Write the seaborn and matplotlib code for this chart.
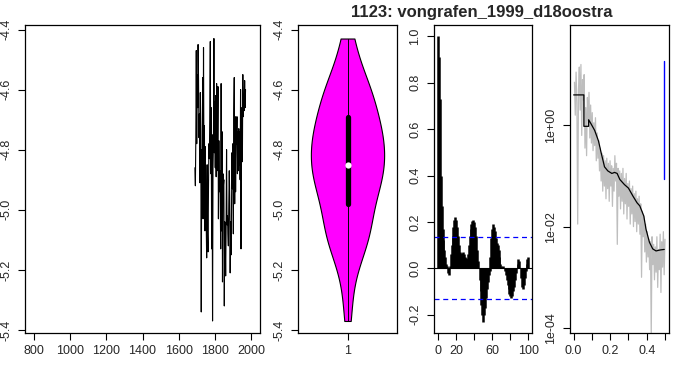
import numpy as np
import pandas as pd
import matplotlib
matplotlib.use("Agg")
import matplotlib.pyplot as plt
import seaborn as sns

sns.set_style("ticks")
plt.rcParams['font.family'] = ['Liberation Sans', 'DejaVu Sans']
plt.rcParams['font.size'] = 9

title = "1123: vongrafen_1999_d18oostra"

# time series (d18O), one value every 2.5 years from 1690
start_year = 1690
step_year = 2.5
d18o = [-4.86, -4.92, -4.76, -4.47, -4.78, -4.55, -4.66, -4.45, -4.57, -4.76,
        -4.68, -4.91, -4.61, -4.74, -5.34, -4.80, -4.95, -4.56, -5.03, -4.46,
        -4.88, -4.72, -5.07, -4.79, -4.98, -5.05, -5.16, -4.85, -5.08, -5.14,
        -4.93, -4.78, -4.83, -4.66, -4.44, -4.88, -4.66, -5.13, -4.75, -5.37,
        -4.86, -4.78, -4.43, -4.81, -4.64, -4.86, -4.62, -4.89, -4.58, -4.87,
        -4.75, -4.59, -5.03, -4.77, -4.94, -4.87, -4.95, -5.13, -4.58, -5.07,
        -4.74, -5.24, -4.88, -4.92, -4.90, -5.32, -5.04, -5.10, -5.22, -5.06,
        -4.80, -5.05, -5.02, -5.08, -5.12, -4.98, -4.87, -4.96, -5.21, -5.04,
        -5.15, -4.99, -4.81, -4.93, -4.78, -5.08, -4.68, -4.56, -4.98, -4.69,
        -4.94, -4.76, -4.78, -4.69, -4.88, -4.74, -4.87, -4.73, -4.85, -4.74,
        -4.90, -4.60, -5.13, -4.78, -4.66, -4.84, -4.55, -4.69, -4.64, -4.67,
        -4.57, -4.66, -4.60]
years = start_year + step_year * np.arange(len(d18o))

# autocorrelation, lags 0..100
acf = [1.00, 0.91, 0.73, 0.40, 0.27, 0.17, 0.12, 0.08, 0.05, 0.02,
       0.01, -0.02, -0.03, 0.01, 0.06, 0.10, 0.14, 0.18, 0.21, 0.22,
       0.21, 0.18, 0.14, 0.10, 0.07, 0.06, 0.06, 0.065, 0.07, 0.06,
       0.05, 0.045, 0.04, 0.06, 0.10, 0.14, 0.17, 0.19, 0.205, 0.21,
       0.20, 0.18, 0.14, 0.08, 0.03, 0.0, -0.05, -0.10, -0.16, -0.20,
       -0.23, -0.20, -0.17, -0.13, -0.09, -0.06, -0.03, -0.01, 0.05, 0.13,
       0.17, 0.19, 0.18, 0.16, 0.13, 0.11, 0.10, 0.08, 0.05, 0.02,
       0.01, 0.005, 0.01, 0.0, -0.01, -0.03, -0.05, -0.07, -0.09, -0.11,
       -0.12, -0.13, -0.12, -0.10, -0.08, -0.05, -0.02, 0.0, 0.02, 0.04,
       0.03, 0.0, -0.04, -0.08, -0.09, -0.07, -0.04, -0.01, 0.02, 0.04,
       0.05]
acf_ci = 0.133

# raw periodogram (log10), frequencies k/226
spec_log = [0.85, 0.20, 1.05, 0.45, -1.95, 0.70, 1.15, 0.30, 1.20, -0.20,
            0.90, 0.50, 1.00, -0.45, 0.35, -0.60, 0.55, 0.10, 0.65, -0.25,
            0.40, -0.35, 0.25, -0.50, 0.05, -0.40, 0.15, -0.70, -0.15, -0.65,
            -0.30, -0.90, -0.45, -1.10, -0.55, -1.30, -0.60, -1.20, -0.70, -1.45,
            -0.65, -1.25, -0.75, -1.50, -0.70, -1.20, -0.80, -1.60, -0.85, -1.30,
            -0.60, -1.10, -0.75, -2.35, -0.85, -1.40, -0.90, -1.65, -0.95, -1.50,
            -0.85, -1.75, -1.05, -1.55, -0.95, -1.85, -1.15, -1.60, -1.10, -1.95,
            -1.25, -1.75, -1.20, -2.00, -1.35, -1.90, -1.30, -2.10, -1.45, -1.95,
            -1.40, -2.15, -1.55, -3.00, -1.70, -2.20, -1.80, -2.50, -1.95, -2.70,
            -2.10, -2.60, -2.25, -2.85, -2.30, -4.15, -2.20, -2.75, -2.35, -3.05,
            -2.40, -2.90, -2.20, -3.20, -2.45, -2.85, -2.15, -3.30, -2.30, -2.80,
            -2.10, -2.95, -2.25]
spec_freq = np.arange(1, len(spec_log) + 1) / 226

# smoothed spectrum (log10)
smooth_freq = [0.0, 0.056, 0.056, 0.082, 0.082, 0.095, 0.115, 0.136, 0.151, 0.169,
               0.187, 0.209, 0.224, 0.238, 0.253, 0.278, 0.300, 0.325, 0.347, 0.362,
               0.384, 0.396, 0.415, 0.433, 0.451, 0.475, 0.496]
smooth_log = [0.60, 0.60, -0.02, -0.02, 0.11, 0.03, -0.10, -0.31, -0.55, -0.82,
              -0.90, -0.95, -0.93, -0.95, -1.07, -1.17, -1.24, -1.40, -1.53, -1.59,
              -1.79, -2.05, -2.31, -2.44, -2.48, -2.46, -2.45]
ci_freq = 0.496
ci_log = [-1.06, 1.27]

W, H = 681, 371
fig = plt.figure(figsize=(W / 100, H / 100), dpi=100)


def px_axes(x0, x1, y0, y1):
    return fig.add_axes([x0 / W, 1 - y1 / H, (x1 - x0) / W, (y1 - y0) / H])


def r_style(ax):
    for s in ax.spines.values():
        s.set_visible(True)
        s.set_linewidth(0.9)
        s.set_color('black')
    ax.tick_params(direction='out', length=5, width=0.8, color='black',
                   labelsize=9, pad=4)
    ax.tick_params(axis='y', labelrotation=90)
    for lab in ax.get_yticklabels():
        lab.set_verticalalignment('center')


yticks = [-5.4, -5.2, -5.0, -4.8, -4.6, -4.4]

# panel 1: time series
ax1 = px_axes(25, 260, 25, 333)
ts = pd.DataFrame({'year': years, 'd18o': d18o})
sns.lineplot(data=ts, x='year', y='d18o', ax=ax1, color='black',
             linewidth=0.8, sort=False, estimator=None)
ax1.set_xlim(750, 2050)
ax1.set_ylim(-5.41, -4.385)
ax1.set_xticks(range(800, 2001, 200))
ax1.set_yticks(yticks)
ax1.set_yticklabels([f"{v:.1f}" for v in yticks])
ax1.set_xlabel('')
ax1.set_ylabel('')
r_style(ax1)

# panel 2: violin
ax2 = px_axes(298, 397, 25, 333)
sns.violinplot(y=d18o, ax=ax2, color='#ff00ff', saturation=1, cut=0,
               inner='box', linecolor='black', linewidth=0.8, width=0.74,
               inner_kws=dict(box_width=3.8, whis_width=0.7, marker=None))
ax2.plot([0], [np.median(d18o)], marker='o', color='white', markersize=4.5,
         markeredgewidth=0, zorder=5)
ax2.set_xlim(-0.5, 0.5)
ax2.set_ylim(-5.41, -4.385)
ax2.set_xticks([0])
ax2.set_xticklabels(['1'])
ax2.set_yticks(yticks)
ax2.set_yticklabels([f"{v:.1f}" for v in yticks])
r_style(ax2)

# panel 3: autocorrelation
ax3 = px_axes(434, 532, 25, 333)
lags = np.arange(len(acf))
ax3.vlines(lags, 0, acf, color='black', linewidth=1.8)
ax3.axhline(0, color='black', linewidth=0.8)
for c in (acf_ci, -acf_ci):
    ax3.axhline(c, color='#0000ff', linewidth=0.9, linestyle=(0, (4, 3)))
ax3.set_xlim(-4.5, 104)
ax3.set_ylim(-0.279, 1.049)
ax3.set_xticks(range(0, 101, 20))
ax3.set_xticklabels(['0', '20', '', '60', '', '100'])
ax3.set_yticks([-0.2, 0.0, 0.2, 0.4, 0.6, 0.8, 1.0])
ax3.set_yticklabels(['-0.2', '0.0', '0.2', '0.4', '0.6', '0.8', '1.0'])
r_style(ax3)

# panel 4: spectrum
ax4 = px_axes(570, 669, 25, 333)
sns.lineplot(x=spec_freq, y=10 ** np.array(spec_log), ax=ax4, color='#bebebe',
             linewidth=0.9, sort=False, estimator=None)
sns.lineplot(x=smooth_freq, y=10 ** np.array(smooth_log), ax=ax4, color='black',
             linewidth=0.9, sort=False, estimator=None)
ax4.plot([ci_freq, ci_freq], 10 ** np.array(ci_log), color='#0000ff', linewidth=1)
ax4.set_yscale('log')
ax4.set_xlim(-0.02, 0.522)
ax4.set_ylim(10 ** -4.1, 10 ** 1.98)
ax4.set_xticks([0.0, 0.1, 0.2, 0.3, 0.4, 0.5])
ax4.set_xticklabels(['0.0', '', '0.2', '', '0.4', ''])
ax4.set_yticks([1e-4, 1e-2, 1e0])
ax4.set_yticklabels(['1e-04', '1e-02', '1e+00'])
ax4.yaxis.set_minor_locator(matplotlib.ticker.NullLocator())
r_style(ax4)

fig.text(482 / W, 1 - 12 / H, title, ha='center', va='center',
         fontsize=12, fontweight='bold')

fig.savefig('out.png', dpi=100)
